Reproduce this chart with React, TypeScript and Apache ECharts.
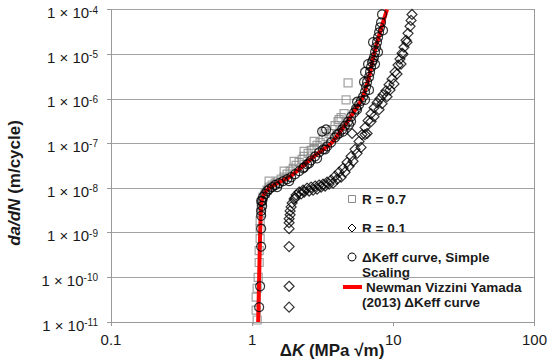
import React, { useEffect, useRef } from "react";
import * as echarts from "echarts";

// ΔK (MPa√m), da/dN (m/cycle)
const r07Data: [number, number][] = [
  [1.085, 1.11e-11], [1.067, 1.85e-11], [1.067, 3.59e-11], [1.085, 5.7e-11], [1.103, 1e-10],
  [1.121, 2.15e-10], [1.121, 3.98e-10], [1.139, 7.36e-10], [1.139, 1.23e-9], [1.139, 1.85e-9],
  [1.158, 2.78e-9], [1.158, 3.78e-9], [1.177, 5.14e-9], [1.196, 6.31e-9], [1.236, 7.74e-9],
  [1.277, 9.03e-9], [1.319, 1.05e-8], [1.386, 1.17e-8], [1.455, 1.29e-8], [1.528, 1.43e-8],
  [1.604, 1.58e-8], [1.685, 1.75e-8], [1.769, 2.05e-8], [1.857, 2.39e-8], [1.951, 2.78e-8],
  [2.048, 3.24e-8], [2.151, 3.78e-8], [2.259, 4.41e-8], [2.333, 5.14e-8], [2.491, 6.0e-8],
  [2.616, 6.99e-8], [2.747, 7.74e-8], [2.884, 9.03e-8], [3.029, 1.05e-7], [3.181, 1.23e-7],
  [3.34, 1.43e-7], [3.508, 1.67e-7], [3.684, 2.05e-7], [3.868, 2.51e-7], [4.061, 3.08e-7],
  [4.265, 3.78e-7], [4.478, 4.64e-7], [4.478, 2.05e-7], [4.627, 9.5e-7], [4.78, 2.27e-6],
  [1.685, 2.39e-8], [1.983, 3.98e-8], [2.333, 6.64e-8], [2.747, 1.11e-7], [3.233, 1.85e-7],
  [4.128, 3.41e-7], [1.319, 1.43e-8],
];

const r01Data: [number, number][] = [
  [1.827, 2.15e-11], [1.827, 6.31e-11], [1.827, 4.89e-10], [1.827, 1.23e-9], [1.827, 1.67e-9],
  [1.827, 2.05e-9], [1.857, 2.51e-9], [1.857, 3.08e-9], [1.888, 3.78e-9], [1.919, 4.64e-9],
  [1.983, 5.7e-9], [2.048, 6.99e-9], [2.151, 8.15e-9], [2.296, 9.03e-9], [2.451, 1e-8],
  [2.616, 1.05e-8], [2.792, 1.11e-8], [2.98, 1.17e-8], [3.181, 1.23e-8], [3.395, 1.36e-8],
  [3.623, 1.51e-8], [3.868, 1.85e-8], [4.128, 2.27e-8], [4.406, 2.78e-8], [4.702, 3.78e-8],
  [5.02, 5.14e-8], [5.357, 7.36e-8], [5.719, 1.11e-7], [6.005, 1.58e-7], [5.103, 1.67e-7],
  [6.307, 2.27e-7], [6.622, 3.24e-7], [6.953, 4.64e-7], [7.303, 6.31e-7], [7.665, 8.15e-7],
  [8.05, 1e-6], [8.456, 1.23e-6], [8.877, 1.51e-6], [9.324, 2.05e-6], [9.79, 2.78e-6],
  [10.28, 3.98e-6], [10.8, 5.7e-6], [11.15, 7.74e-6], [11.53, 1.05e-5], [11.9, 1.43e-5],
  [12.3, 2.05e-5], [12.71, 2.93e-5], [13.13, 4.19e-5], [13.35, 5.7e-5], [13.56, 7.74e-5],
  [2.532, 8.58e-9], [2.884, 9.5e-9], [3.287, 1.11e-8], [3.743, 1.29e-8], [4.265, 1.75e-8],
  [4.859, 3.08e-8], [5.536, 6.0e-8], [6.307, 1.58e-7], [6.953, 3.08e-7], [7.925, 5.7e-7],
  [9.025, 1.11e-6], [10.11, 2.15e-6], [11.34, 6.0e-6],
  [2.016, 6.0e-9], [2.222, 7.36e-9], [2.333, 8.15e-9], [2.703, 9.03e-9], [3.078, 1.05e-8],
  [3.508, 1.23e-8], [3.996, 1.58e-8], [4.551, 2.27e-8], [5.186, 3.98e-8], [5.907, 8.15e-8],
  [6.516, 1.67e-7], [7.303, 3.98e-7], [8.318, 7.74e-7], [9.475, 1.58e-6], [10.62, 3.59e-6],
  [11.71, 1e-5], [12.5, 1.85e-5],
];

const simpleData: [number, number][] = [
  [1.121, 2.15e-11], [1.139, 6.31e-11], [1.158, 4.89e-10], [1.158, 1.23e-9], [1.158, 2.39e-9],
  [1.158, 3.08e-9], [1.177, 3.98e-9], [1.177, 5.14e-9], [1.196, 6.31e-9], [1.236, 7.36e-9],
  [1.277, 8.58e-9], [1.319, 9.5e-9], [1.386, 1.05e-8], [1.455, 1.17e-8], [1.553, 1.29e-8],
  [1.657, 1.43e-8], [1.769, 1.58e-8], [1.888, 1.75e-8], [2.016, 2.05e-8], [2.151, 2.39e-8],
  [2.296, 2.78e-8], [2.451, 3.41e-8], [2.616, 4.19e-8], [2.792, 5.14e-8], [2.98, 6.31e-8],
  [3.13, 1.85e-7], [3.34, 2.05e-7], [3.181, 7.36e-8], [3.395, 8.58e-8], [3.623, 1.05e-7],
  [3.868, 1.36e-7], [4.128, 1.67e-7], [4.335, 2.05e-7], [4.551, 2.51e-7], [4.78, 3.08e-7],
  [5.02, 3.98e-7], [5.272, 4.89e-7], [5.445, 6.0e-7], [5.719, 7.36e-7], [5.907, 9.03e-7],
  [6.106, 1.11e-6], [6.307, 1.43e-6], [6.41, 1.85e-6], [6.516, 2.39e-6], [6.73, 3.08e-6],
  [6.841, 3.98e-6], [6.953, 5.14e-6], [7.066, 6.64e-6], [7.303, 8.58e-6], [7.422, 1.11e-5],
  [7.546, 1.43e-5], [7.665, 1.85e-5], [7.792, 2.39e-5], [7.925, 3.08e-5], [8.05, 3.98e-5],
  [8.185, 5.14e-5], [8.318, 7.74e-5],
  [5.536, 8.58e-7], [6.307, 9.5e-7], [6.622, 6.0e-6], [7.183, 7.36e-6], [6.307, 3.98e-6],
  [4.859, 2.64e-7], [3.996, 1.58e-7], [2.884, 4.64e-8], [2.333, 2.93e-8], [1.503, 1.05e-8],
  [1.158, 5.14e-9],
  [4.406, 1.85e-7], [5.02, 3.08e-7], [5.536, 5.7e-7], [6.73, 1.58e-6], [6.204, 2.39e-6],
  [7.422, 6.0e-6], [7.792, 1.11e-5], [7.183, 1.85e-5], [8.456, 3.41e-5], [2.532, 3.59e-8],
  [3.287, 7.36e-8], [1.827, 1.43e-8],
];

const newmanData: [number, number][] = [
  [1.103, 1e-11], [1.121, 1e-10], [1.139, 1e-9], [1.158, 3.98e-9], [1.196, 6.64e-9],
  [1.319, 1e-8], [1.553, 1.36e-8], [1.827, 1.75e-8], [2.151, 2.64e-8], [2.747, 5.14e-8],
  [3.623, 1e-7], [4.478, 2.39e-7], [5.272, 5.14e-7], [6.005, 1e-6], [6.73, 3.08e-6],
  [7.303, 1e-5], [8.05, 3.08e-5], [9.025, 1e-4],
];

const xTickLabels: Record<string, string> = { "-1": "0.1", "0": "1", "1": "10", "2": "100" };

const FONT = "'Liberation Sans', Arial, Helvetica, sans-serif";
const GRID = "#a3a3a3";
const TXT = "#1a1a1a";
const LEG = `bold 13.5px ${FONT}`;

export default function App() {
  const ref = useRef<HTMLDivElement>(null);
  useEffect(() => {
    if (!ref.current) return;
    const chart = echarts.init(ref.current, null, { renderer: "svg" });
    const hollow = (c: string, w = 1) => ({ color: "rgba(0,0,0,0)", borderColor: c, borderWidth: w });
    const option: any = {
      animation: false,
      textStyle: { fontFamily: FONT },
      grid: { left: 111, right: 15, top: 7, bottom: 39 },
      xAxis: {
        type: "log",
        logBase: 10,
        min: 0.1,
        max: 100,
        axisLine: { lineStyle: { color: "#999", width: 1 } },
        axisTick: { show: true, length: 4, lineStyle: { color: "#999" } },
        splitLine: { show: false },
        minorTick: { show: false },
        axisLabel: {
          margin: 10,
          color: TXT,
          fontSize: 15,
          fontFamily: FONT,
          formatter: (v: number) => xTickLabels[String(Math.round(Math.log10(v)))] ?? "",
        },
      },
      yAxis: [
        {
          type: "log",
          logBase: 10,
          min: 1e-11,
          max: 1e-4,
          axisLine: { show: true, lineStyle: { color: "#999", width: 1 } },
          axisTick: { show: true, length: 4, lineStyle: { color: "#999" } },
          splitLine: { show: true, lineStyle: { color: GRID, width: 1 } },
          axisLabel: {
            margin: 13,
            color: TXT,
            fontFamily: FONT,
            padding: [6, 0, 0, 0],
            formatter: (v: number) => `{a|1 × 10}{s|-${Math.abs(Math.round(Math.log10(v)))}}`,
            rich: {
              a: { fontSize: 15, fontFamily: FONT, color: TXT, lineHeight: 15, padding: [5, 0, 0, 0], verticalAlign: "bottom" },
              s: { fontSize: 10, fontFamily: FONT, color: TXT, lineHeight: 10, verticalAlign: "top" },
            },
          },
        },
        {
          type: "log",
          logBase: 10,
          min: 1e-11,
          max: 1e-4,
          position: "right",
          axisLine: { show: true, lineStyle: { color: "#999", width: 1 } },
          axisTick: { show: false },
          axisLabel: { show: false },
          splitLine: { show: false },
        },
      ],
      series: [
        {
          name: "R = 0.7",
          type: "scatter",
          data: r07Data,
          symbol: "rect",
          symbolSize: 8,
          itemStyle: hollow("#8a8a8a", 1.2),
          z: 2,
        },
        {
          name: "R = 0.1",
          type: "scatter",
          data: r01Data,
          symbol: "diamond",
          symbolSize: 10,
          itemStyle: hollow("#000", 1.2),
          z: 3,
        },
        {
          name: "Newman Vizzini Yamada (2013) ΔKeff curve",
          type: "line",
          data: newmanData,
          symbol: "none",
          smooth: 0.2,
          lineStyle: { color: "#ff0000", width: 4 },
          z: 4,
        },
        {
          name: "ΔKeff curve, Simple Scaling",
          type: "scatter",
          data: simpleData,
          symbol: "circle",
          symbolSize: 9,
          itemStyle: hollow("#000", 1.2),
          z: 5,
        },
      ],
      graphic: [
        {
          type: "text",
          x: 332,
          y: 350,
          z: 100,
          style: {
            text: "{d|Δ}{k|K}{n| (MPa √m)}",
            align: "center",
            verticalAlign: "middle",
            rich: {
              d: { fontSize: 17, fontWeight: "bold", fontFamily: FONT, fill: TXT },
              k: { fontSize: 17, fontWeight: "bold", fontStyle: "italic", fontFamily: FONT, fill: TXT },
              n: { fontSize: 17, fontWeight: "bold", fontFamily: FONT, fill: TXT },
            },
          },
        },
        {
          type: "text",
          x: 14,
          y: 183,
          rotation: Math.PI / 2,
          z: 100,
          style: {
            text: "{i|da/dN}{n| (m/cycle)}",
            align: "center",
            verticalAlign: "middle",
            rich: {
              i: { fontSize: 17, fontWeight: "bold", fontStyle: "italic", fontFamily: FONT, fill: TXT },
              n: { fontSize: 17, fontWeight: "bold", fontFamily: FONT, fill: TXT },
            },
          },
        },
        {
          type: "group",
          z: 100,
          children: [
            { type: "rect", shape: { x: 340, y: 190, width: 191, height: 126 }, style: { fill: "#fff" } },
            { type: "rect", shape: { x: 348.5, y: 195.5, width: 7, height: 7 }, style: { fill: "none", stroke: "#8a8a8a", lineWidth: 1 } },
            { type: "text", x: 362, y: 199, style: { text: "R = 0.7", font: LEG, fill: TXT, verticalAlign: "middle", lineHeight: 13 } },
            { type: "polygon", shape: { points: [[352, 224], [356, 228], [352, 232], [348, 228]] }, style: { fill: "none", stroke: "#000", lineWidth: 1 } },
            { type: "text", x: 362, y: 228, style: { text: "R = 0.1", font: LEG, fill: TXT, verticalAlign: "middle", lineHeight: 13 } },
            { type: "circle", shape: { cx: 352, cy: 257, r: 4 }, style: { fill: "none", stroke: "#000", lineWidth: 1 } },
            { type: "text", x: 362, y: 257, style: { text: "ΔKeff curve, Simple", font: LEG, fill: TXT, verticalAlign: "middle", lineHeight: 13 } },
            { type: "text", x: 362, y: 272, style: { text: "Scaling", font: LEG, fill: TXT, verticalAlign: "middle", lineHeight: 13 } },
            { type: "line", shape: { x1: 343, y1: 287, x2: 362, y2: 287 }, style: { stroke: "#ff0000", lineWidth: 4 } },
            { type: "text", x: 366, y: 287, style: { text: "Newman Vizzini Yamada", font: LEG, fill: TXT, verticalAlign: "middle", lineHeight: 13 } },
            { type: "text", x: 362, y: 302, style: { text: "(2013) ΔKeff curve", font: LEG, fill: TXT, verticalAlign: "middle", lineHeight: 13 } },
          ],
        },
      ],
    };
    chart.setOption(option);
    return () => chart.dispose();
  }, []);
  return (
    <div
      ref={ref}
      style={{ position: "absolute", left: 0, top: 0, width: 550, height: 361, background: "#fff" }}
    />
  );
}
